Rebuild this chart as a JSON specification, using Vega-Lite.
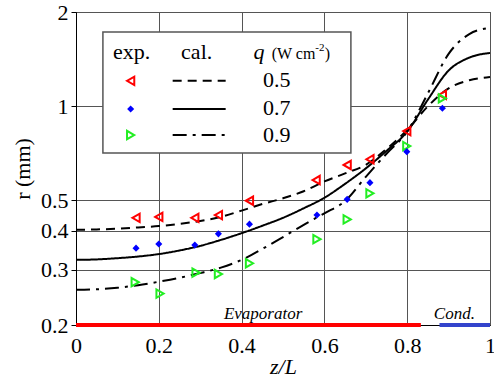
{
  "$schema": "https://vega.github.io/schema/vega-lite/v6.json",
  "width": 414,
  "height": 313,
  "autosize": {"type": "none"},
  "padding": {"left": 76, "top": 12, "right": 4, "bottom": 53},
  "config": {
    "view": {"stroke": "#333", "strokeWidth": 1}
  },
  "datasets": {
    "cal": [
      {"q":"0.5","x":0,"y":0.403},{"q":"0.5","x":0.05,"y":0.404},{"q":"0.5","x":0.1,"y":0.406},{"q":"0.5","x":0.15,"y":0.41},{"q":"0.5","x":0.2,"y":0.414},{"q":"0.5","x":0.25,"y":0.421},{"q":"0.5","x":0.3,"y":0.43},{"q":"0.5","x":0.35,"y":0.443},{"q":"0.5","x":0.4,"y":0.464},{"q":"0.5","x":0.45,"y":0.487},{"q":"0.5","x":0.5,"y":0.508},{"q":"0.5","x":0.55,"y":0.535},{"q":"0.5","x":0.6,"y":0.575},{"q":"0.5","x":0.65,"y":0.61},{"q":"0.5","x":0.7,"y":0.65},{"q":"0.5","x":0.75,"y":0.73},{"q":"0.5","x":0.8,"y":0.84},{"q":"0.5","x":0.85,"y":1.0},{"q":"0.5","x":0.9,"y":1.14},{"q":"0.5","x":0.95,"y":1.21},{"q":"0.5","x":1.0,"y":1.24},
      {"q":"0.7","x":0,"y":0.323},{"q":"0.7","x":0.05,"y":0.324},{"q":"0.7","x":0.1,"y":0.327},{"q":"0.7","x":0.15,"y":0.331},{"q":"0.7","x":0.2,"y":0.337},{"q":"0.7","x":0.25,"y":0.346},{"q":"0.7","x":0.3,"y":0.358},{"q":"0.7","x":0.35,"y":0.374},{"q":"0.7","x":0.4,"y":0.393},{"q":"0.7","x":0.45,"y":0.415},{"q":"0.7","x":0.5,"y":0.44},{"q":"0.7","x":0.55,"y":0.472},{"q":"0.7","x":0.6,"y":0.51},{"q":"0.7","x":0.65,"y":0.565},{"q":"0.7","x":0.7,"y":0.633},{"q":"0.7","x":0.75,"y":0.72},{"q":"0.7","x":0.8,"y":0.83},{"q":"0.7","x":0.85,"y":1.05},{"q":"0.7","x":0.9,"y":1.3},{"q":"0.7","x":0.95,"y":1.43},{"q":"0.7","x":1.0,"y":1.48},
      {"q":"0.9","x":0,"y":0.259},{"q":"0.9","x":0.05,"y":0.26},{"q":"0.9","x":0.1,"y":0.263},{"q":"0.9","x":0.15,"y":0.268},{"q":"0.9","x":0.2,"y":0.275},{"q":"0.9","x":0.25,"y":0.283},{"q":"0.9","x":0.3,"y":0.293},{"q":"0.9","x":0.35,"y":0.305},{"q":"0.9","x":0.4,"y":0.323},{"q":"0.9","x":0.45,"y":0.35},{"q":"0.9","x":0.5,"y":0.382},{"q":"0.9","x":0.55,"y":0.418},{"q":"0.9","x":0.6,"y":0.455},{"q":"0.9","x":0.65,"y":0.498},{"q":"0.9","x":0.7,"y":0.595},{"q":"0.9","x":0.75,"y":0.705},{"q":"0.9","x":0.8,"y":0.83},{"q":"0.9","x":0.85,"y":1.1},{"q":"0.9","x":0.9,"y":1.47},{"q":"0.9","x":0.95,"y":1.7},{"q":"0.9","x":1.0,"y":1.78}
    ],
    "expOpen": [
      {"q":"0.5","x":0.145,"y":0.44},{"q":"0.5","x":0.2,"y":0.443},{"q":"0.5","x":0.287,"y":0.44},{"q":"0.5","x":0.344,"y":0.449},{"q":"0.5","x":0.419,"y":0.499},{"q":"0.5","x":0.58,"y":0.581},{"q":"0.5","x":0.655,"y":0.649},{"q":"0.5","x":0.71,"y":0.677},{"q":"0.5","x":0.799,"y":0.833},{"q":"0.5","x":0.885,"y":1.087},
      {"q":"0.9","x":0.143,"y":0.274},{"q":"0.9","x":0.203,"y":0.252},{"q":"0.9","x":0.29,"y":0.294},{"q":"0.9","x":0.344,"y":0.291},{"q":"0.9","x":0.419,"y":0.315},{"q":"0.9","x":0.582,"y":0.376},{"q":"0.9","x":0.655,"y":0.435},{"q":"0.9","x":0.71,"y":0.527},{"q":"0.9","x":0.799,"y":0.746},{"q":"0.9","x":0.885,"y":1.06}
    ],
    "expFilled": [
      {"q":"0.7","x":0.145,"y":0.352},{"q":"0.7","x":0.2,"y":0.363},{"q":"0.7","x":0.287,"y":0.36},{"q":"0.7","x":0.344,"y":0.391},{"q":"0.7","x":0.419,"y":0.42},{"q":"0.7","x":0.582,"y":0.449},{"q":"0.7","x":0.655,"y":0.504},{"q":"0.7","x":0.71,"y":0.57},{"q":"0.7","x":0.799,"y":0.716},{"q":"0.7","x":0.885,"y":0.985}
    ],
    "zones": [
      {"part":"Evaporator","x":0,"x2":0.833,"y":0.2},
      {"part":"Cond.","x":0.878,"x2":1,"y":0.2}
    ],
    "zoneLabels": [
      {"t":"Evaporator","x":0.452,"y":0.209},
      {"t":"Cond.","x":0.914,"y":0.209}
    ],
    "legBox": [{"x":0.065,"x2":0.664,"y":0.709,"y2":1.726}],
    "legSymOpen": [
      {"q":"0.5","x":0.132,"y":1.205},
      {"q":"0.9","x":0.132,"y":0.809}
    ],
    "legSymFilled": [
      {"q":"0.7","x":0.132,"y":0.98}
    ],
    "legLine": [
      {"q":"0.5","x":0.2335,"y":1.205},{"q":"0.5","x":0.3615,"y":1.205},
      {"q":"0.7","x":0.2335,"y":0.98},{"q":"0.7","x":0.3615,"y":0.98},
      {"q":"0.9","x":0.2335,"y":0.809},{"q":"0.9","x":0.3615,"y":0.809}
    ],
    "legText": [
      {"t":"exp.","x":0.1345,"y":1.416},
      {"t":"cal.","x":0.2915,"y":1.416},
      {"t":"0.5","x":0.485,"y":1.149},
      {"t":"0.7","x":0.485,"y":0.938},
      {"t":"0.9","x":0.485,"y":0.771}
    ],
    "legQ": [{"t":"q","x":0.442,"y":1.416}],
    "legUnit": [{"t":"(W cm","x":0.4727,"y":1.416},{"t":")","x":0.601,"y":1.416}],
    "legSup": [{"t":"-2","x":0.578,"y":1.50}]
  },
  "encoding": {
    "x": {"field":"x","type":"quantitative","scale":{"domain":[0,1],"nice":false,"zero":false},
      "axis":{"values":[0,0.2,0.4,0.6,0.8,1],"format":"~g","title":"z/L","titleFontStyle":"italic","ticks":false,"grid":true,"labelPadding":10,"titlePadding":0,
        "labelFont":"Liberation Serif, serif","titleFont":"Liberation Serif, serif","labelFontSize":22,"titleFontSize":22,"labelColor":"black","titleColor":"black","titleFontWeight":"normal","domainColor":"black","gridColor":"#555","gridOpacity":1,"gridWidth":1,"labelOverlap":false,"labelFlush":false}},
    "y": {"field":"y","type":"quantitative","scale":{"type":"log","domain":[0.2,2],"nice":false},
      "axis":{"values":[0.2,0.3,0.4,0.5,1,2],"format":"~g","title":"r (mm)","ticks":true,"tickSize":5,"grid":true,"labelPadding":3,"titlePadding":6,
        "labelFont":"Liberation Serif, serif","titleFont":"Liberation Serif, serif","labelFontSize":22,"titleFontSize":22,"labelColor":"black","titleColor":"black","titleFontWeight":"normal","domainColor":"black","tickColor":"black","gridColor":"#555","gridOpacity":1,"gridWidth":1,"labelOverlap":false,"labelFlush":false}}
  },
  "layer": [
    {
      "data": {"name":"zones"},
      "mark": {"type":"rule","strokeWidth":4},
      "encoding": {
        "x2": {"field":"x2"},
        "color": {"field":"part","type":"nominal","scale":{"domain":["Evaporator","Cond."],"range":["#ff0000","#3344cc"]},"legend":null}
      }
    },
    {
      "data": {"name":"zoneLabels"},
      "mark": {"type":"text","font":"Liberation Serif, serif","fontStyle":"italic","fontSize":17,"align":"center","baseline":"alphabetic","color":"black"},
      "encoding": {"text":{"field":"t"}}
    },
    {
      "data": {"name":"cal"},
      "mark": {"type":"line","color":"black","strokeWidth":2,"interpolate":"monotone"},
      "encoding": {
        "strokeDash": {"field":"q","type":"nominal","scale":{"domain":["0.5","0.7","0.9"],"range":[[9,6],[1,0],[14,6,3,6]]},"legend":null}
      }
    },
    {
      "data": {"name":"expOpen"},
      "mark": {"type":"point","strokeWidth":2,"size":70,"opacity":1,"filled":false},
      "encoding": {
        "shape": {"field":"q","type":"nominal","scale":{"domain":["0.5","0.9"],"range":["triangle-left","triangle-right"]},"legend":null},
        "stroke": {"field":"q","type":"nominal","scale":{"domain":["0.5","0.9"],"range":["#ff0000","#22ee22"]},"legend":null}
      }
    },
    {
      "data": {"name":"expFilled"},
      "mark": {"type":"point","shape":"diamond","size":50,"filled":true,"color":"#0000ff","opacity":1}
    },
    {
      "data": {"name":"legBox"},
      "mark": {"type":"rect","fill":"white","stroke":"#555","strokeWidth":1.5},
      "encoding": {"x2":{"field":"x2"},"y2":{"field":"y2"}}
    },
    {
      "data": {"name":"legSymOpen"},
      "mark": {"type":"point","strokeWidth":2,"size":70,"opacity":1,"filled":false},
      "encoding": {
        "shape": {"field":"q","type":"nominal","legend":null},
        "stroke": {"field":"q","type":"nominal","legend":null}
      }
    },
    {
      "data": {"name":"legSymFilled"},
      "mark": {"type":"point","shape":"diamond","size":50,"filled":true,"color":"#0000ff","opacity":1}
    },
    {
      "data": {"name":"legLine"},
      "mark": {"type":"line","color":"black","strokeWidth":2},
      "encoding": {"strokeDash":{"field":"q","type":"nominal","legend":null}}
    },
    {
      "data": {"name":"legText"},
      "mark": {"type":"text","font":"Liberation Serif, serif","fontSize":22,"align":"center","baseline":"alphabetic","color":"black"},
      "encoding": {"text":{"field":"t"}}
    },
    {
      "data": {"name":"legQ"},
      "mark": {"type":"text","font":"Liberation Serif, serif","fontSize":22,"fontStyle":"italic","align":"center","baseline":"alphabetic","color":"black"},
      "encoding": {"text":{"field":"t"}}
    },
    {
      "data": {"name":"legUnit"},
      "mark": {"type":"text","font":"Liberation Serif, serif","fontSize":16,"align":"left","baseline":"alphabetic","color":"black"},
      "encoding": {"text":{"field":"t"}}
    },
    {
      "data": {"name":"legSup"},
      "mark": {"type":"text","font":"Liberation Serif, serif","fontSize":11,"align":"left","baseline":"alphabetic","color":"black"},
      "encoding": {"text":{"field":"t"}}
    }
  ]
}
